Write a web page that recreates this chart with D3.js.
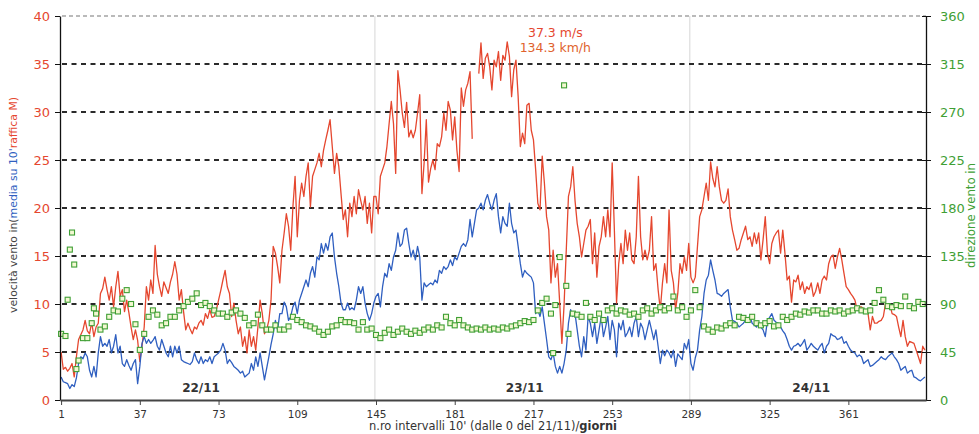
<!DOCTYPE html>
<html><head><meta charset="utf-8">
<script src="https://cdn.jsdelivr.net/npm/d3@7"></script>
<style>
html,body{margin:0;padding:0;background:#fff;overflow:hidden;width:979px;height:434px}
svg{display:block;font-family:"DejaVu Sans","Liberation Sans",Arial,sans-serif}
</style></head><body>
<svg id="c" width="979" height="434"></svg>
<script>
// gust (raffica max, m/s) per 10' interval 1..396
const gust = [
5.0,3.2,3.4,3.0,3.3,3.8,2.4,4.5,6.3,6.8,
7.3,8.3,7.2,6.9,8.1,6.6,7.6,8.0,11.1,11.6,
12.8,11.5,10.4,11.8,9.7,11.8,13.4,10.8,11.5,9.2,
10.4,9.1,7.6,6.3,7.3,6.2,4.0,5.6,7.6,11.8,
10.4,12.5,11.1,16.1,13.1,11.8,10.8,12.3,11.7,11.1,
12.3,13.1,14.4,13.1,10.4,11.5,9.2,7.3,8.0,7.4,
6.9,7.6,7.4,8.0,8.3,7.8,9.0,8.5,9.4,8.6,
8.7,9.4,10.4,11.4,12.5,13.5,11.8,11.1,8.7,10.1,
8.3,6.9,7.6,5.6,6.6,4.9,7.3,5.6,6.6,5.2,
7.6,10.4,9.0,6.9,7.3,8.3,10.4,16.0,15.3,13.9,
12.2,15.6,17.4,19.4,18.1,15.6,20.1,23.3,17.0,20.8,
22.6,21.2,23.3,24.7,20.1,23.3,24.0,24.7,25.7,24.3,
26.0,27.1,28.1,29.2,26.4,23.6,25.7,24.3,21.5,18.8,
19.8,17.0,20.5,19.1,21.2,19.4,21.9,20.8,19.8,21.2,
18.4,20.5,17.4,21.2,21.2,19.4,23.3,24.0,24.7,26.4,
28.8,31.1,28.8,23.6,34.3,32.3,29.9,28.4,31.0,27.4,
28.1,27.3,28.1,29.9,31.8,21.5,24.7,29.2,22.7,24.1,
25.0,24.0,26.7,26.4,27.4,29.9,28.1,31.1,30.2,27.1,
29.5,26.0,23.8,32.5,30.6,32.3,33.0,34.2,27.2,null,
null,34.0,37.2,33.5,35.6,36.1,34.7,32.3,35.4,34.7,
36.3,33.3,35.9,35.4,37.3,35.8,31.6,34.4,35.4,31.6,
26.4,27.8,26.7,30.7,30.9,28.1,27.1,24.0,20.5,19.8,
25.4,22.6,19.1,17.7,12.2,15.6,12.8,14.2,10.1,5.9,
9.9,15.6,21.2,22.2,24.3,20.8,18.4,17.0,14.9,16.3,
17.7,18.1,18.8,14.2,17.4,12.8,16.0,17.0,19.1,17.0,
19.8,17.0,24.7,17.7,10.1,14.2,16.3,14.2,17.7,15.6,
17.4,14.6,14.2,17.0,23.3,17.0,14.6,15.6,14.6,15.6,
19.1,13.5,14.2,11.5,9.4,12.2,14.2,12.2,19.8,13.5,
12.2,9.4,11.1,14.2,13.2,14.9,13.5,16.3,12.8,12.2,
12.8,16.0,19.1,19.8,21.2,22.6,20.8,24.8,23.1,22.2,
24.3,22.2,20.8,20.5,20.8,22.0,19.1,17.7,16.7,15.6,
15.8,16.7,17.4,18.1,16.7,17.0,16.0,17.4,16.3,17.4,
14.6,16.7,19.1,15.3,14.2,16.3,17.0,17.4,17.7,15.3,
17.7,15.3,12.5,12.9,10.2,12.5,12.3,13.0,11.5,12.3,
11.1,11.8,11.5,12.2,10.8,11.3,12.2,11.1,12.5,12.9,
12.5,14.2,14.9,15.1,13.7,14.9,15.8,14.6,13.2,11.8,
11.5,11.1,10.8,10.4,9.4,9.7,9.7,9.4,9.2,9.0,
7.3,8.7,8.0,8.0,8.2,8.3,8.7,10.1,9.7,9.9,
9.0,8.9,8.7,7.6,6.6,8.3,6.6,5.6,6.1,6.0,
5.9,5.2,4.5,3.8,5.6,5.2
];
// mean speed over 10' (m/s) per interval 1..396
const mean = [
2.4,1.9,1.8,1.7,1.2,1.6,1.4,2.3,3.8,4.5,
4.3,4.9,4.5,3.1,2.4,3.5,2.4,4.9,6.6,5.6,
5.9,5.6,6.3,4.9,5.6,6.8,4.9,5.6,3.8,3.5,
4.2,3.6,3.1,3.8,4.2,1.7,3.5,5.9,6.6,5.9,
6.3,5.9,6.2,6.6,5.6,5.2,6.3,5.6,4.9,4.5,
5.6,4.5,5.6,4.9,5.6,4.2,4.0,3.9,3.8,3.7,
4.0,4.9,4.2,3.8,4.5,3.8,4.2,4.0,4.5,3.8,
4.5,4.7,4.9,5.2,5.9,5.2,3.8,4.2,3.9,3.5,
3.3,3.1,2.8,3.0,2.4,2.6,2.8,3.8,3.1,4.5,
3.5,4.9,3.5,2.1,3.3,4.5,5.8,6.9,8.3,7.3,
9.0,9.0,10.2,9.7,8.3,8.7,9.7,10.2,9.0,10.4,
11.1,11.8,12.5,11.8,13.2,13.9,12.8,14.9,14.6,16.3,
15.3,16.3,15.6,17.0,17.4,14.9,13.2,11.8,10.1,9.4,
9.4,10.1,9.4,9.6,9.4,10.4,11.8,11.1,11.8,10.1,
9.0,8.3,9.0,10.1,10.8,11.1,9.7,11.8,13.2,12.8,
14.2,13.5,14.9,15.6,17.4,16.0,16.3,17.7,17.9,16.3,
14.9,15.6,14.6,16.0,14.9,10.4,12.2,11.8,12.0,12.2,
12.0,12.5,12.2,13.5,13.2,13.9,13.6,13.9,14.6,14.0,
14.9,14.6,15.3,16.0,16.3,16.0,16.7,18.8,17.0,18.4,
19.8,20.0,20.5,19.8,20.8,21.4,20.5,19.8,20.8,21.5,
19.1,17.4,19.1,18.4,18.1,20.5,18.4,17.4,17.7,16.0,
14.2,12.8,13.5,13.2,13.0,12.8,12.2,9.0,9.4,8.7,
9.7,8.0,6.3,4.5,4.2,4.9,3.5,2.8,3.5,2.8,
3.8,5.2,8.0,9.4,8.7,9.0,7.3,5.6,4.5,6.6,
5.2,8.7,8.0,6.6,8.0,5.9,7.3,8.7,6.6,7.6,
8.7,6.3,8.3,7.3,4.5,8.0,7.3,8.3,6.6,7.0,
7.6,6.6,8.0,8.7,6.6,8.0,7.5,6.3,7.3,8.3,
7.3,6.3,7.3,5.6,3.8,5.2,4.6,5.2,4.9,4.4,
5.2,3.5,4.8,4.5,4.2,5.9,5.3,6.3,3.8,3.1,
4.4,5.2,7.3,8.7,11.1,12.5,13.0,14.6,13.5,12.5,
11.1,11.0,10.8,11.1,11.3,11.5,9.7,8.3,8.2,8.0,
7.6,7.8,8.0,8.3,8.5,8.7,8.0,7.8,7.6,8.0,
7.6,7.3,6.6,8.3,8.6,9.0,8.3,8.1,8.0,7.6,
7.2,6.9,6.3,5.6,5.2,5.6,5.7,5.9,5.6,5.9,
6.3,5.2,5.5,5.9,5.6,5.4,5.2,5.6,5.9,4.9,
5.6,5.9,6.9,6.7,6.6,6.3,6.4,6.6,5.9,6.1,
5.6,5.2,5.0,4.9,4.5,4.7,4.5,3.8,4.0,4.2,
3.5,3.6,3.8,4.0,4.2,4.5,4.3,4.2,4.5,4.7,
4.9,4.5,4.2,3.8,3.1,3.3,3.5,2.8,3.0,3.1,
2.4,2.3,2.1,2.0,2.2,2.4
];
// wind direction (degrees), one square every second interval starting at 1
const dirStart = 1, dirStep = 2;
const direction = [
62,60,141,127,37,58,58,72,81,66,
69,78,84,83,95,103,90,71,47,62,
78,84,80,70,72,78,78,84,88,92,
95,100,89,91,88,84,81,81,78,82,
84,81,77,70,72,80,70,66,66,70,
66,66,69,78,75,73,70,69,67,64,
61,64,69,70,75,73,73,72,66,73,
66,67,61,58,63,66,61,64,67,64,
62,65,63,66,68,66,70,68,78,72,
70,75,70,68,66,67,66,68,66,67,
66,68,67,69,70,72,74,73,75,84,
91,95,81,89,134,295,62,81,80,78,
91,78,75,81,75,84,86,81,84,83,
80,81,78,84,86,81,84,87,84,86,
97,84,87,78,84,103,87,69,66,64,
68,67,70,72,70,78,77,75,78,72,
70,72,74,69,70,78,75,78,81,80,
83,82,84,84,81,81,84,83,84,81,
83,84,86,84,83,84,91,103,94,88,
87,89,88,97,88,86,92,90
];
// additional direction squares [interval, degrees]
const directionExtra = [[4,94],[6,157],[8,29],[16,86],[226,44],[232,107]];

const speedTicks = [0,5,10,15,20,25,30,35,40];
const dirTicks = [0,45,90,135,180,225,270,315,360];
const xTickLabels = [1,37,73,109,145,181,217,253,289,325,361];
const dayBoundaries = [144.5, 288.5];
const dayLabels = [["22/11",65],["23/11",213],["24/11",344]];
const peakLabels = ["37.3 m/s","134.3 km/h"];

const RED = "#e5472f", BLUE = "#2f5fc0", GREEN = "#3f9f35";
const svg = d3.select("#c");
const x = d3.scaleLinear().domain([0.5, 396.5]).range([60, 926]);
const y = d3.scaleLinear().domain([0, 40]).range([400, 16]);
const yDir = d3.scaleLinear().domain([0, 360]).range([400, 16]);

// day separators
svg.selectAll("line.day").data(dayBoundaries).join("line").attr("class","day")
  .attr("x1", d => x(d)).attr("x2", d => x(d)).attr("y1", 16).attr("y2", 400)
  .attr("stroke", "#d6d6d6").attr("stroke-width", 1);

// horizontal grid
svg.selectAll("line.grid").data(speedTicks.filter(v => v > 0)).join("line").attr("class","grid")
  .attr("x1", 62).attr("x2", 926).attr("y1", d => y(d)).attr("y2", d => y(d))
  .attr("stroke", d => d === 40 ? "#777" : "#2a2a2a")
  .attr("stroke-width", d => d === 40 ? 1.2 : 2.2)
  .attr("stroke-dasharray", d => d === 40 ? "4,3" : "5,4.5");

const line = d3.line().defined(d => d[1] != null).x(d => x(d[0])).y(d => y(d[1]));
svg.append("path").datum(gust.map((v, i) => [i + 1, v])).attr("d", line)
  .attr("fill", "none").attr("stroke", RED).attr("stroke-width", 1.3).attr("stroke-linejoin","round");
svg.append("path").datum(mean.map((v, i) => [i + 1, v])).attr("d", line)
  .attr("fill", "none").attr("stroke", BLUE).attr("stroke-width", 1.3).attr("stroke-linejoin","round");

const dirPts = direction.map((v, k) => [dirStart + k * dirStep, v]).concat(directionExtra);
svg.selectAll("rect.dir").data(dirPts).join("rect").attr("class","dir")
  .attr("x", d => x(d[0]) - 2.5).attr("y", d => yDir(d[1]) - 2.5)
  .attr("width", 5).attr("height", 5)
  .attr("fill", "#f3f8d2").attr("stroke", GREEN).attr("stroke-width", 1.1);

// axes
const gL = svg.append("g").attr("transform", "translate(60,0)")
  .call(d3.axisLeft(y).tickValues(speedTicks).tickSize(5).tickSizeOuter(0).tickPadding(5));
gL.select(".domain").attr("stroke", "#111").attr("stroke-width", 1.3);
gL.selectAll(".tick line").attr("stroke", "#111");
gL.selectAll("text").attr("fill", RED).style("font-size", "13px").style("font-family", "DejaVu Sans");

const gR = svg.append("g").attr("transform", "translate(926,0)")
  .call(d3.axisRight(yDir).tickValues(dirTicks).tickSize(5).tickSizeOuter(0).tickPadding(9));
gR.select(".domain").attr("stroke", "#111").attr("stroke-width", 1.3);
gR.selectAll(".tick line").attr("stroke", "#111").attr("x1", -4);
gR.selectAll("text").attr("fill", GREEN).style("font-size", "13px").style("font-family", "DejaVu Sans");

const gB = svg.append("g").attr("transform", "translate(0,400)")
  .call(d3.axisBottom(x).tickValues(xTickLabels).tickSize(5).tickSizeOuter(0).tickPadding(6));
gB.select(".domain").attr("stroke", "#444").attr("stroke-width", 2.2);
gB.selectAll(".tick line").attr("stroke", "#444");
gB.selectAll("text").attr("fill", "#333").style("font-size", "10.5px").style("font-family", "DejaVu Sans");

// day labels
svg.selectAll("text.dayl").data(dayLabels).join("text").attr("class","dayl")
  .attr("x", d => x(d[1])).attr("y", 392).attr("text-anchor", "middle")
  .style("font-size", "12px").style("font-weight", "bold").attr("fill", "#333").text(d => d[0]);

// peak annotation
svg.append("text").attr("x", x(227)).attr("y", 37).attr("text-anchor", "middle")
  .style("font-size", "12.5px").attr("fill", RED).text(peakLabels[0]);
svg.append("text").attr("x", x(227)).attr("y", 52).attr("text-anchor", "middle")
  .style("font-size", "12.5px").attr("fill", "#e0622c").text(peakLabels[1]);

// left axis title
const lt = svg.append("text").attr("transform", "translate(17,205) rotate(-90)")
  .attr("text-anchor", "middle").style("font-size", "11px")
  .attr("textLength", 216).attr("lengthAdjust", "spacingAndGlyphs");
lt.append("tspan").attr("fill", "#444").text("velocità vento in(");
lt.append("tspan").attr("fill", BLUE).text("media su 10'");
lt.append("tspan").attr("fill", RED).text("raffica M)");

// right axis title
svg.append("text").attr("transform", "translate(975,268) rotate(-90)")
  .attr("text-anchor", "start").style("font-size", "12px").attr("fill", GREEN)
  .attr("textLength", 105).attr("lengthAdjust", "spacingAndGlyphs")
  .text("direzione vento in");

// x axis title
const xt = svg.append("text").attr("x", 493).attr("y", 430).attr("text-anchor", "middle")
  .style("font-size", "11.5px").attr("fill", "#333")
  .attr("textLength", 248).attr("lengthAdjust", "spacingAndGlyphs");
xt.append("tspan").text("n.ro intervalli 10' (dalle 0 del 21/11)/");
xt.append("tspan").style("font-weight", "bold").text("giorni");
</script>
</body></html>
